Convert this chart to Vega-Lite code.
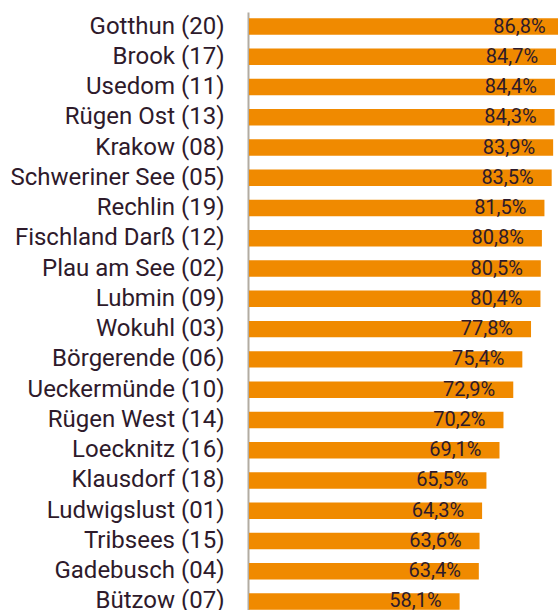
{
  "$schema": "https://vega.github.io/schema/vega-lite/v6.json",
  "width": 309,
  "height": 598,
  "autosize": {"type": "none"},
  "padding": {"left": 249, "top": 12, "right": 0, "bottom": 0},
  "data": {
    "values": [
      {"name": "Gotthun (20)", "value": 86.8},
      {"name": "Brook (17)", "value": 84.7},
      {"name": "Usedom (11)", "value": 84.4},
      {"name": "Rügen Ost (13)", "value": 84.3},
      {"name": "Krakow (08)", "value": 83.9},
      {"name": "Schweriner See (05)", "value": 83.5},
      {"name": "Rechlin (19)", "value": 81.5},
      {"name": "Fischland Darß (12)", "value": 80.8},
      {"name": "Plau am See (02)", "value": 80.5},
      {"name": "Lubmin (09)", "value": 80.4},
      {"name": "Wokuhl (03)", "value": 77.8},
      {"name": "Börgerende (06)", "value": 75.4},
      {"name": "Ueckermünde (10)", "value": 72.9},
      {"name": "Rügen West (14)", "value": 70.2},
      {"name": "Loecknitz (16)", "value": 69.1},
      {"name": "Klausdorf (18)", "value": 65.5},
      {"name": "Ludwigslust (01)", "value": 64.3},
      {"name": "Tribsees (15)", "value": 63.6},
      {"name": "Gadebusch (04)", "value": 63.4},
      {"name": "Bützow (07)", "value": 58.1}
    ]
  },
  "transform": [
    {"calculate": "replace(format(datum.value, '.1f'), '.', ',') + '%'", "as": "label"}
  ],
  "encoding": {
    "y": {
      "field": "name",
      "type": "nominal",
      "sort": null,
      "scale": {"paddingInner": 0.455, "paddingOuter": 0.11, "align": 0.95},
      "axis": {
        "title": null,
        "domainColor": "#b2aca2",
        "domainWidth": 2,
        "ticks": false,
        "tickSize": 0,
        "labelPadding": 24,
        "offset": 1,
        "labelFont": "Roboto",
        "labelFontSize": 24,
        "labelColor": "#2e1a2b",
        "labelLimit": 400
      }
    },
    "x": {
      "field": "value",
      "type": "quantitative",
      "scale": {"domain": [0, 85.24], "nice": false, "zero": true},
      "axis": null
    }
  },
  "layer": [
    {
      "mark": {"type": "bar", "color": "#F08A00", "clip": true}
    },
    {
      "mark": {"type": "text", "align": "right", "dx": -18, "font": "Roboto", "fontSize": 20, "color": "#2e1a2b"},
      "encoding": {
        "text": {"field": "label"}
      }
    }
  ],
  "config": {"view": {"stroke": null}}
}
